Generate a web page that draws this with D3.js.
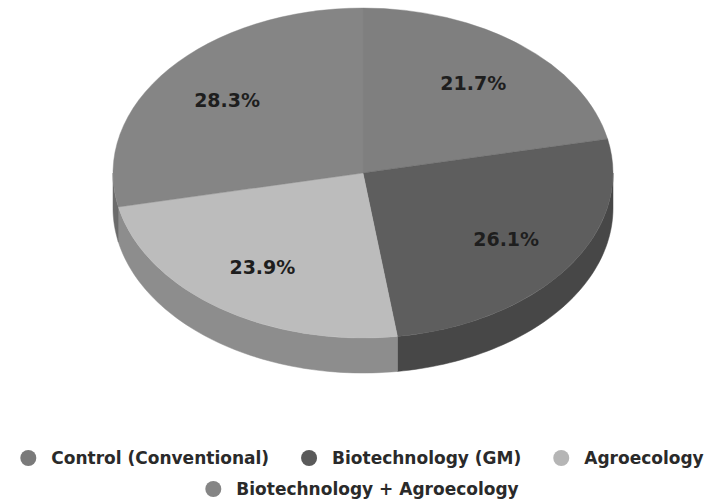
<!DOCTYPE html>
<html>
<head>
<meta charset="utf-8">
<script src="https://cdn.jsdelivr.net/npm/d3@7"></script>
<style>
  html, body { margin: 0; padding: 0; background: #fff; }
  svg { display: block; }
</style>
</head>
<body>
<svg id="chart" width="716" height="500"></svg>
<script>
const categories = ["Control (Conventional)", "Biotechnology (GM)", "Agroecology", "Biotechnology + Agroecology"];
const values = [21.7, 26.1, 23.9, 28.3];
const valueLabels = ["21.7%", "26.1%", "23.9%", "28.3%"];
const topColors = ["#7f7f7f", "#5e5e5e", "#bcbcbc", "#858585"];
const sideColors = ["#666666", "#474747", "#8d8d8d", "#6c6c6c"];
const legendColors = ["#7a7a7a", "#5a5a5a", "#b5b5b5", "#858585"];
const legendRows = [[0, 1, 2], [3]];

const svg = d3.select("#chart");
const cx = 363, cy = 173, rx = 250, ry = 165, depth = 35;
const k = ry / rx;

const data = categories.map((c, i) => ({ cat: c, value: values[i], label: valueLabels[i], i }));
const pie = d3.pie().sort(null).value(d => d.value);
const arcs = pie(data);

const topColor = d3.scaleOrdinal().domain(categories).range(topColors);
const sideColor = d3.scaleOrdinal().domain(categories).range(sideColors);
const legendColor = d3.scaleOrdinal().domain(categories).range(legendColors);

const px = a => cx + rx * Math.sin(a);
const py = a => cy - ry * Math.cos(a);

// sides (front half only)
const sideG = svg.append("g");
arcs.forEach(a => {
  const s = Math.max(a.startAngle, Math.PI / 2);
  const e = Math.min(a.endAngle, 3 * Math.PI / 2);
  if (s >= e) return;
  const n = 60;
  const angs = d3.range(n + 1).map(j => s + (e - s) * j / n);
  const pts = angs.map(t => [px(t), py(t)])
    .concat(angs.slice().reverse().map(t => [px(t), py(t) + depth]));
  sideG.append("path")
    .attr("d", d3.line()(pts) + "Z")
    .attr("fill", sideColor(a.data.cat))
    .attr("stroke", sideColor(a.data.cat))
    .attr("stroke-width", 0.5);
});

// top faces
const arc = d3.arc().innerRadius(0).outerRadius(rx);
const topG = svg.append("g").attr("transform", `translate(${cx},${cy}) scale(1,${k})`);
topG.selectAll("path").data(arcs).enter().append("path")
  .attr("d", arc)
  .attr("fill", d => topColor(d.data.cat))
  .attr("stroke", d => topColor(d.data.cat))
  .attr("stroke-width", 0.5);

// value labels
const labelArc = d3.arc().innerRadius(rx * 0.7).outerRadius(rx * 0.7);
svg.append("g").selectAll("text").data(arcs).enter().append("text")
  .attr("x", d => cx + labelArc.centroid(d)[0])
  .attr("y", d => cy + labelArc.centroid(d)[1] * k)
  .attr("text-anchor", "middle")
  .attr("dominant-baseline", "central")
  .attr("font-family", "DejaVu Sans, Verdana, sans-serif")
  .attr("font-weight", "bold")
  .attr("font-size", 19)
  .attr("fill", "#1e1e1e")
  .text(d => d.data.label);

// legend
const legendYs = [458, 489];
const dotR = 8, textGap = 23, itemGap = 40;
const legendCenter = 362;
legendRows.forEach((row, ri) => {
  const g = svg.append("g");
  let x = 0;
  row.forEach((idx, j) => {
    const cat = categories[idx];
    g.append("circle").attr("cx", x).attr("cy", legendYs[ri]).attr("r", dotR)
      .attr("fill", legendColor(cat));
    const t = g.append("text")
      .attr("x", x + textGap).attr("y", legendYs[ri] + 6)
      .attr("font-family", "DejaVu Sans, Verdana, sans-serif")
      .attr("font-weight", "bold")
      .attr("font-size", 17)
      .attr("fill", "#2a2a2a")
      .text(cat);
    const w = t.node().getComputedTextLength();
    x += textGap + w + (j < row.length - 1 ? itemGap : 0);
  });
  const left = -dotR, right = x;
  const shift = legendCenter - (left + right) / 2;
  g.attr("transform", `translate(${shift},0)`);
});
</script>
</body>
</html>
